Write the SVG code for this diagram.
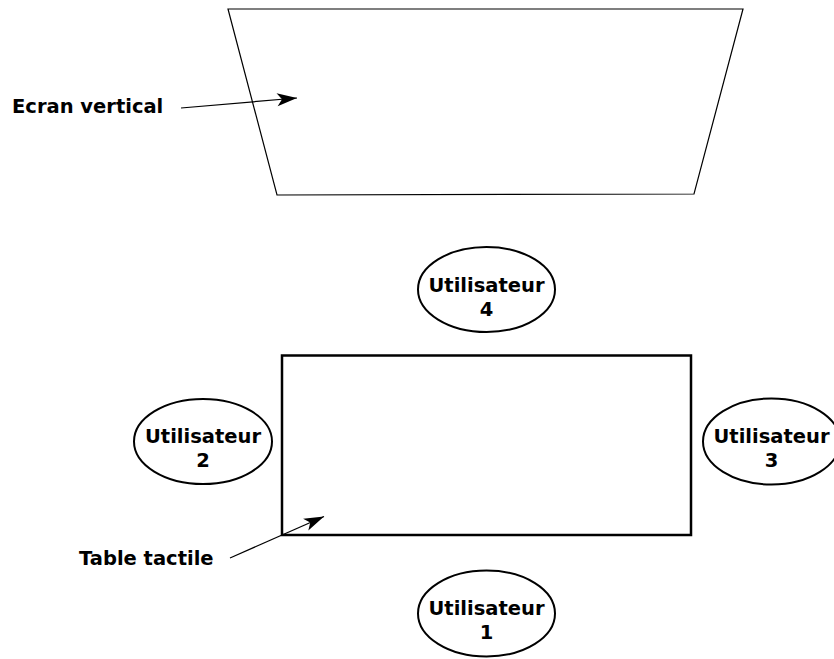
<svg xmlns="http://www.w3.org/2000/svg" width="834" height="659" viewBox="0 0 834 659">
<style>
text{font-family:"DejaVu Sans","Liberation Sans",sans-serif;font-weight:bold;font-size:19.5px;fill:#000}
.u{text-anchor:middle}
.ell{fill:#fff;stroke:#000;stroke-width:2}
.conn{stroke:#000;stroke-width:1.2;fill:none;marker-end:url(#ah)}
</style>
<defs>
<marker id="ah" viewBox="0 0 24 14" refX="22" refY="7" markerWidth="24" markerHeight="14" markerUnits="userSpaceOnUse" orient="auto">
<path d="M22,7 L2,0.5 L7,7 L2,13.5 Z" fill="#000"/>
</marker>
</defs>
<rect width="834" height="659" fill="#fff"/>
<g id="ecran">
<polygon points="228,9 743,9 694,194 277,195" fill="#fff" stroke="#000" stroke-width="1.2"/>
</g>
<g id="table">
<rect x="282" y="355.5" width="409" height="179.5" fill="#fff" stroke="#000" stroke-width="2.5"/>
</g>
<g id="user4">
<ellipse class="ell" cx="486.5" cy="289.5" rx="68.5" ry="42.5"/>
<text class="u" x="486.5" y="292">Utilisateur</text>
<text class="u" x="486.5" y="316">4</text>
</g>
<g id="user2">
<ellipse class="ell" cx="203" cy="441.5" rx="69" ry="42.5"/>
<text class="u" x="203" y="443">Utilisateur</text>
<text class="u" x="203" y="467">2</text>
</g>
<g id="user3">
<ellipse class="ell" cx="771.5" cy="441.5" rx="68.5" ry="43"/>
<text class="u" x="771.5" y="443">Utilisateur</text>
<text class="u" x="771.5" y="467">3</text>
</g>
<g id="user1">
<ellipse class="ell" cx="486.5" cy="613.5" rx="68.5" ry="43"/>
<text class="u" x="486.5" y="615">Utilisateur</text>
<text class="u" x="486.5" y="639">1</text>
</g>
<g id="labels">
<text x="12" y="113">Ecran vertical</text>
<text x="79" y="565">Table tactile</text>
</g>
<g id="connectors">
<line class="conn" x1="181" y1="108" x2="297" y2="98"/>
<line class="conn" x1="230" y1="558" x2="324" y2="516.5"/>
</g>
</svg>
